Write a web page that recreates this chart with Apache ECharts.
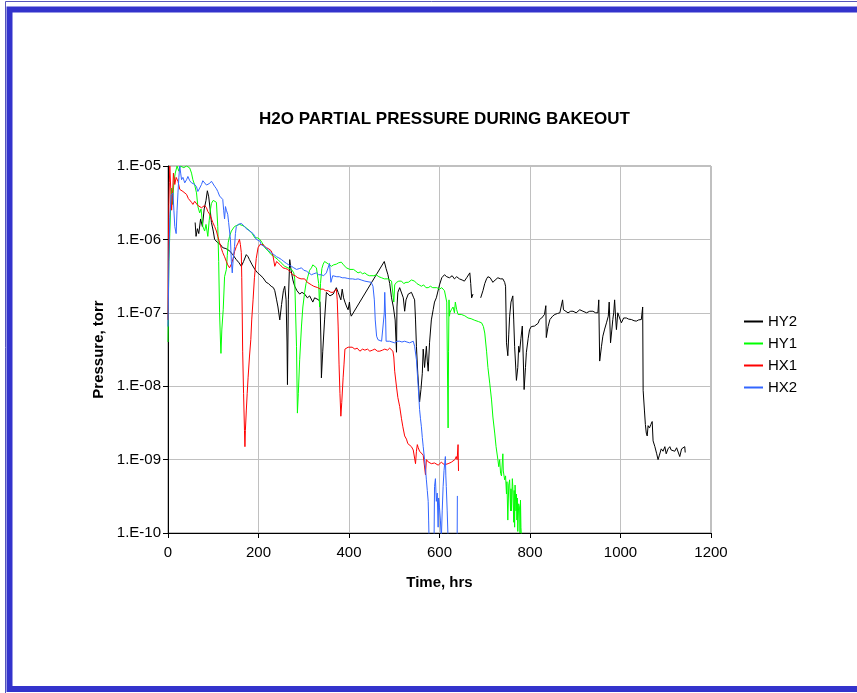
<!DOCTYPE html>
<html>
<head>
<meta charset="utf-8">
<script src="https://cdn.jsdelivr.net/npm/echarts@6/dist/echarts.min.js"></script>
<style>
  html, body { margin: 0; padding: 0; background: #ffffff; }
  #chart { width: 857px; height: 693px; }
</style>
</head>
<body>
<div id="chart"></div>
<script>
// Water partial pressure (torr) vs. bakeout time (hrs) for four gauges.
const seriesNames = ['HY2', 'HY1', 'HX1', 'HX2'];
const xTicks = [0, 200, 400, 600, 800, 1000, 1200];
const yTicks = [1e-10, 1e-9, 1e-8, 1e-7, 1e-6, 1e-5];

const hy2 = [
  [60,1.7e-6],[62,1.1e-6],[65,1.4e-6],[68,1.2e-6],[72,1.9e-6],[76,1.5e-6],[80,2.6e-6],[84,3.4e-6],[87,4.6e-6],[90,3.8e-6],
  [93,2.6e-6],[96,1.7e-6],[100,1.3e-6],[103,1.0e-6],[110,9e-7],[116,8.5e-7],[121,7.7e-7],[128,7.5e-7],[136,7e-7],[143,6.2e-7],
  [151,5.3e-7],[157,4.8e-7],[162,4.3e-7],[167,5e-7],[173,6.2e-7],[177,5.8e-7],[180,5.3e-7],[186,4.5e-7],[192,3.9e-7],[198,3.5e-7],
  [203,3.3e-7],[210,3e-7],[217,2.6e-7],[222,2.5e-7],[228,2.3e-7],[233,2.2e-7],[236,2.0e-7],[240,1.5e-7],[243,1.2e-7],[247,8e-8],
  [251,1.3e-7],[255,2.0e-7],[258,2.3e-7],[261,1.5e-7],[263,4e-8],[264,1.05e-8],[266,1.5e-7],[269,5.3e-7],[272,3.8e-7],[276,2.8e-7],
  [280,2.3e-7],[285,2.0e-7],[291,1.8e-7],[296,1.9e-7],[302,1.8e-7],[308,1.6e-7],[313,1.7e-7],[320,1.4e-7],[324,1.6e-7],[328,1.7e-7],
  [333,1.5e-7],[336,1.4e-7],[338,4e-8],[339,1.3e-8],[342,3e-8],[346,8e-8],[350,1.9e-7],[358,1.7e-7],[365,1.8e-7],[372,2.2e-7],
  [376,1.9e-7],[379,1.9e-7],[382,1.5e-7],[385,2.1e-7],[388,1.6e-7],[391,1.4e-7],[395,1.2e-7],[398,1.1e-7],[401,1.4e-7],[403,1.0e-7],
  [405,9e-8],[478,5e-7],[482,4e-7],[486,3.3e-7],[490,2.5e-7],[494,1.6e-7],[498,1.2e-7],[502,8e-8],[505,2.9e-8],[506,1.2e-7],
  [508,1.9e-7],[512,2.2e-7],[516,2.2e-7],[520,1.6e-7],[523,1.05e-7],[526,1.5e-7],[531,1.8e-7],[538,1.9e-7],[543,1.6e-7],[545,1.5e-7],
  [547,8e-8],[549,3.5e-8],[552,1.5e-8],[556,6.1e-9],[559,9e-9],[562,1.5e-8],[564,3.2e-8],[567,1.8e-8],[571,3.5e-8],[573,2.2e-8],
  [575,1.6e-8],[578,3.9e-8],[582,8e-8],[586,1.1e-7],[589,1.4e-7],[593,1.6e-7],[597,1.7e-7],[600,2.4e-7],[605,3.0e-7],[611,3.3e-7],
  [616,3.1e-7],[622,3.0e-7],[628,3.2e-7],[633,2.9e-7],[638,3.1e-7],[644,2.9e-7],[650,2.8e-7],[655,2.7e-7],[660,3.0e-7],[663,3.1e-7],
  [667,3.5e-7],[669,2.5e-7],[671,1.6e-7],[674,1.8e-7],[682,'-'],[691,1.6e-7],[696,2.0e-7],[700,2.5e-7],[704,2.9e-7],[707,3.1e-7],
  [712,3.0e-7],[718,2.6e-7],[723,2.8e-7],[729,3.0e-7],[735,2.9e-7],[740,2.9e-7],[744,2.6e-7],[746,2.3e-7],[747,1.0e-7],[748,3.9e-8],
  [751,2.6e-8],[753,5e-8],[755,9e-8],[758,1.4e-7],[762,1.7e-7],[764,8e-8],[766,3.5e-8],[770,1.2e-8],[773,1.8e-8],[775,3.5e-8],
  [777,2.9e-8],[780,4.5e-8],[783,6.6e-8],[785,2.5e-8],[787,9e-9],[790,1.8e-8],[792,2.9e-8],[796,4.5e-8],[799,5.9e-8],[803,6.5e-8],
  [807,6.9e-8],[810,6.6e-8],[814,7e-8],[818,7.2e-8],[821,8.1e-8],[826,8.5e-8],[832,9.5e-8],[835,1.25e-7],[836,4.6e-8],[840,6.5e-8],
  [844,8.1e-8],[850,9e-8],[855,9.5e-8],[861,9.8e-8],[866,1.0e-7],[870,1.05e-7],[872,1.5e-7],[874,1.1e-7],[877,1.1e-7],[884,1.0e-7],
  [890,1.05e-7],[895,1.05e-7],[902,1.0e-7],[910,1.1e-7],[917,1.05e-7],[925,1.0e-7],[932,1.05e-7],[939,1.05e-7],[945,1.0e-7],[950,1.0e-7],
  [952,1.5e-7],[954,2.2e-8],[958,3.5e-8],[961,4.8e-8],[965,6e-8],[969,7.3e-8],[973,9e-8],[975,1.4e-7],[978,3.9e-8],[981,6e-8],
  [983,8.1e-8],[985,1.0e-7],[987,1.5e-7],[989,9e-8],[991,5.9e-8],[994,1.0e-7],[998,8.5e-8],[1002,7.3e-8],[1007,8.5e-8],[1013,8.5e-8],
  [1018,8.2e-8],[1024,8.1e-8],[1030,7.8e-8],[1035,7.7e-8],[1040,8e-8],[1046,8.1e-8],[1049,1.2e-7],[1050,8.8e-9],[1053,4.6e-9],[1055,3e-9],
  [1057,2.3e-9],[1059,2.1e-9],[1061,2.9e-9],[1064,2.7e-9],[1067,3.0e-9],[1070,3.3e-9],[1072,1.8e-9],[1076,1.5e-9],[1080,1.2e-9],[1083,1.0e-9],
  [1086,1.15e-9],[1090,1.4e-9],[1094,1.3e-9],[1098,1.5e-9],[1101,1.2e-9],[1105,1.4e-9],[1109,1.5e-9],[1112,1.35e-9],[1116,1.4e-9],[1120,1.3e-9],
  [1124,1.45e-9],[1127,1.5e-9],[1131,1.1e-9],[1135,1.4e-9],[1138,1.45e-9],[1142,1.5e-9],[1143,1.25e-9]
];

const hy1 = [
  [0,4e-8],[1,1.5e-7],[2,5e-7],[4,1.2e-6],[6,3e-6],[8,5e-6],[10,3e-6],[13,6e-6],[16,8e-6],[20,1.0e-5],
  [24,8.5e-6],[27,1.0e-5],[30,1.0e-5],[35,9.5e-6],[41,1.0e-5],[45,1.0e-5],[48,9.4e-6],[52,8e-6],[55,6.5e-6],[59,5.5e-6],
  [63,4.3e-6],[66,2.8e-6],[70,2.3e-6],[73,2.6e-6],[77,1.5e-6],[81,1.3e-6],[84,1.6e-6],[88,1.1e-6],[91,1.8e-6],[94,2.6e-6],
  [96,3.1e-6],[100,3.4e-6],[103,3.5e-6],[107,3.2e-6],[110,1.5e-6],[112,5e-7],[114,1.0e-7],[116,4e-8],[117,2.8e-8],[119,6e-8],
  [122,1.1e-7],[125,3.1e-7],[129,3.9e-7],[131,6e-7],[133,9e-7],[136,1.1e-6],[140,1.3e-6],[147,1.5e-6],[152,1.55e-6],[158,1.6e-6],
  [164,1.55e-6],[169,1.5e-6],[175,1.4e-6],[181,1.3e-6],[186,1.2e-6],[192,1.05e-6],[198,1.05e-6],[203,1.0e-6],[208,9e-7],[214,7.7e-7],
  [221,7e-7],[228,6.2e-7],[235,5.8e-7],[243,5.3e-7],[250,4.8e-7],[258,4.3e-7],[265,4.1e-7],[273,3.9e-7],[278,3.5e-7],[280,2.9e-7],
  [282,1e-7],[284,3.5e-8],[286,4.3e-9],[288,8e-9],[291,2.3e-8],[295,6.6e-8],[298,1.2e-7],[302,1.9e-7],[305,2.5e-7],[309,3.1e-7],
  [313,3.8e-7],[317,4.1e-7],[320,4.5e-7],[324,4.3e-7],[328,4.1e-7],[331,3.9e-7],[333,2.5e-7],[335,1.2e-7],[337,2.5e-7],[340,4e-7],
  [343,4.6e-7],[346,5e-7],[350,4.9e-7],[355,4.6e-7],[361,4.3e-7],[366,4.5e-7],[372,4.6e-7],[377,4.8e-7],[383,4.9e-7],[388,4.5e-7],
  [394,4.1e-7],[398,4.0e-7],[402,3.9e-7],[405,4.1e-7],[410,3.9e-7],[415,3.7e-7],[420,3.5e-7],[425,3.6e-7],[430,3.4e-7],[435,3.5e-7],
  [440,3.3e-7],[445,3.2e-7],[449,3.1e-7],[455,3.2e-7],[460,3.3e-7],[466,3.1e-7],[472,3.0e-7],[478,2.9e-7],[482,3.0e-7],[486,2.9e-7],
  [490,2.8e-7],[494,2.7e-7],[497,2.7e-7],[499,1.4e-7],[501,2.4e-7],[505,2.6e-7],[510,2.7e-7],[516,2.7e-7],[521,2.5e-7],[526,2.6e-7],
  [531,2.6e-7],[538,2.8e-7],[545,2.7e-7],[550,2.5e-7],[555,2.4e-7],[560,2.3e-7],[565,2.4e-7],[570,2.2e-7],[575,2.2e-7],[580,2.3e-7],
  [585,2.2e-7],[589,2.3e-7],[594,2.2e-7],[600,2.1e-7],[605,2.2e-7],[611,2.0e-7],[614,2.1e-7],[616,1.4e-7],[618,1e-8],[619,2.7e-9],
  [620,3e-8],[621,1.5e-7],[622,9e-8],[623,1.0e-7],[626,1.1e-7],[630,1.2e-7],[633,1.0e-7],[635,1.4e-7],[638,1.1e-7],[641,9.5e-8],
  [645,9.2e-8],[648,9.5e-8],[652,9e-8],[656,9.1e-8],[660,8.7e-8],[663,8.5e-8],[667,8.2e-8],[670,8.3e-8],[674,8e-8],[678,7.9e-8],
  [682,7.7e-8],[686,7.6e-8],[690,7.5e-8],[693,7.3e-8],[697,6.5e-8],[700,5.3e-8],[704,3e-8],[707,1.8e-8],[711,1.1e-8],[715,6.5e-9],
  [718,3.8e-9],[722,2.3e-9],[725,1.5e-9],[729,1.0e-9],[731,8e-10],[733,1.0e-9],[735,6.5e-10],[737,6e-10],[740,1.2e-9],[741,7e-10],
  [744,5.3e-10],[746,6e-10],[748,3.4e-10],[749,5e-10],[751,1.5e-10],[753,4.5e-10],[755,5.3e-10],[757,2e-10],[758,4e-10],[759,2e-10],
  [761,5.5e-10],[762,4.3e-10],[764,1.4e-10],[765,3.8e-10],[766,1.2e-10],[767,4.5e-10],[769,2e-10],[770,3.4e-10],[771,1.5e-10],[772,3e-10],
  [773,1.05e-10],[775,2.5e-10],[777,2.2e-10],[778,1.0e-10],[779,2.8e-10],[780,1.2e-10],[781,0.9e-10]
];

const hx1 = [
  [0,8e-8],[1,1e-6],[2,3e-6],[3,6e-6],[4,1e-5],[6,5e-6],[8,2.5e-6],[10,4e-6],[12,8e-6],[15,5.6e-6],
  [18,7e-6],[22,6.2e-6],[26,4.8e-6],[30,5e-6],[33,4.5e-6],[37,4.3e-6],[41,4.1e-6],[45,3.6e-6],[48,3.5e-6],[52,3.2e-6],
  [55,3.0e-6],[59,3.3e-6],[63,3.1e-6],[66,2.9e-6],[70,3.0e-6],[74,2.7e-6],[77,2.8e-6],[81,2.9e-6],[85,2.7e-6],[88,2.4e-6],
  [92,2.2e-6],[96,1.9e-6],[99,1.7e-6],[103,1.5e-6],[107,1.3e-6],[110,1.1e-6],[114,9e-7],[118,7.5e-7],[121,6.6e-7],[125,5.8e-7],
  [129,5e-7],[132,4.5e-7],[136,4.1e-7],[140,4.6e-7],[144,5.5e-7],[147,6.8e-7],[151,8e-7],[155,9e-7],[158,1.0e-6],[160,8.5e-7],
  [162,6.6e-7],[163,3e-7],[164,1e-7],[165,3e-8],[167,8e-9],[169,2.5e-9],[170,1.5e-9],[171,2.5e-9],[173,4.6e-9],[175,8e-9],
  [177,1.3e-8],[180,2.5e-8],[183,4.3e-8],[185,8e-8],[188,1.5e-7],[191,3e-7],[195,5.5e-7],[199,7.7e-7],[203,8.5e-7],[206,9e-7],
  [210,8.5e-7],[214,8e-7],[217,7.7e-7],[222,7.5e-7],[228,7e-7],[232,6e-7],[236,4.3e-7],[240,5e-7],[243,4.7e-7],[248,4.5e-7],
  [254,4.1e-7],[260,4.0e-7],[265,3.9e-7],[270,3.6e-7],[276,3.3e-7],[281,3.2e-7],[287,3.0e-7],[294,2.9e-7],[302,2.9e-7],[308,2.6e-7],
  [312,2.7e-7],[317,2.4e-7],[322,2.3e-7],[326,2.4e-7],[331,2.2e-7],[337,2.1e-7],[343,2.1e-7],[348,2.0e-7],[354,2.0e-7],[360,1.9e-7],
  [365,1.9e-7],[369,2.0e-7],[372,2.1e-7],[374,1.5e-7],[376,6.6e-8],[378,2e-8],[380,8e-9],[382,3.9e-9],[384,6e-9],[387,1.3e-8],
  [389,2e-8],[391,3.2e-8],[395,3.3e-8],[398,3.4e-8],[402,3.3e-8],[407,3.4e-8],[413,3.2e-8],[418,3.3e-8],[424,3.0e-8],[430,3.2e-8],
  [435,3.1e-8],[441,3.2e-8],[446,3.0e-8],[452,3.1e-8],[457,3.2e-8],[463,3.0e-8],[468,3.0e-8],[474,3.1e-8],[479,3.2e-8],[485,3.1e-8],
  [490,3.3e-8],[494,3.2e-8],[497,3.0e-8],[499,2.5e-8],[501,1.6e-8],[505,9.8e-9],[508,7e-9],[512,5.3e-9],[516,3.6e-9],[519,2.8e-9],
  [523,2.1e-9],[527,1.9e-9],[530,1.65e-9],[534,1.6e-9],[538,1.5e-9],[542,1.35e-9],[545,1.3e-9],[547,8.8e-10],[549,1.3e-9],[551,1.6e-9],
  [553,1.45e-9],[556,1.3e-9],[560,1.25e-9],[564,1.15e-9],[567,1.1e-9],[569,6.2e-10],[571,1.0e-9],[575,9.3e-10],[578,9.5e-10],[582,8.8e-10],
  [586,9.2e-10],[589,9.0e-10],[593,8.6e-10],[597,8.4e-10],[600,8.8e-10],[604,9.2e-10],[608,9e-10],[611,8.5e-10],[615,8.4e-10],[619,8.8e-10],
  [622,8.8e-10],[626,9.2e-10],[630,9e-10],[634,1.0e-9],[637,1.1e-9],[639,1.0e-9],[641,1.6e-9],[642,7e-10]
];

const hx2 = [
  [0,6.5e-8],[2,5.3e-7],[4,2e-6],[7,4e-6],[11,4.3e-6],[13,2.5e-6],[15,1.5e-6],[18,1.2e-6],[20,2.5e-6],[22,4.3e-6],
  [24,7e-6],[26,1.0e-5],[28,8e-6],[30,6.5e-6],[33,7e-6],[37,5.9e-6],[41,6.5e-6],[44,7.2e-6],[48,6.3e-6],[52,5.9e-6],
  [55,6.2e-6],[59,5.6e-6],[63,5.2e-6],[66,4.5e-6],[70,5e-6],[74,5.6e-6],[77,6.3e-6],[81,6.2e-6],[85,5.5e-6],[88,5.3e-6],
  [92,5.8e-6],[96,6.2e-6],[99,5.9e-6],[103,5.3e-6],[107,4.9e-6],[110,4.5e-6],[114,3.9e-6],[118,3.7e-6],[121,3.5e-6],[123,2.5e-6],
  [125,1.9e-6],[127,2.8e-6],[129,2.5e-6],[132,2.2e-6],[134,1.7e-6],[136,1.8e-6],[138,1.0e-6],[140,5e-7],[142,3.5e-7],[144,5.3e-7],
  [147,8e-7],[149,1.2e-6],[151,1.5e-6],[155,1.6e-6],[158,1.7e-6],[162,1.65e-6],[166,1.6e-6],[169,1.5e-6],[173,1.4e-6],[177,1.35e-6],
  [181,1.3e-6],[185,1.25e-6],[188,1.2e-6],[192,1.1e-6],[195,1.0e-6],[199,9.8e-7],[203,9.5e-7],[206,8.5e-7],[211,8.1e-7],[217,7.7e-7],
  [222,7.1e-7],[228,6.6e-7],[234,6.2e-7],[240,5.8e-7],[245,5.6e-7],[251,5.3e-7],[256,5e-7],[262,4.7e-7],[267,4.5e-7],[273,4.3e-7],
  [278,4.1e-7],[284,3.9e-7],[290,4.0e-7],[295,4.1e-7],[300,3.8e-7],[306,3.7e-7],[311,3.5e-7],[317,3.3e-7],[322,3.4e-7],[328,3.5e-7],
  [333,3.3e-7],[339,3.3e-7],[344,3.2e-7],[350,3.5e-7],[354,3.3e-7],[357,4.7e-7],[360,2.6e-7],[364,3.2e-7],[368,3.3e-7],[373,3.1e-7],
  [379,3.1e-7],[385,3.0e-7],[391,3.0e-7],[396,2.95e-7],[402,2.9e-7],[408,2.9e-7],[414,2.85e-7],[420,2.9e-7],[427,2.8e-7],[435,2.7e-7],
  [442,2.65e-7],[449,2.6e-7],[453,2.3e-7],[456,1.5e-7],[458,8e-8],[461,4.8e-8],[464,4.3e-8],[468,4.2e-8],[472,4.1e-8],[476,4.3e-8],
  [478,1.0e-7],[479,1.9e-7],[481,8e-8],[482,4.1e-8],[486,4.2e-8],[490,4.1e-8],[495,4.0e-8],[501,3.9e-8],[506,4.1e-8],[512,4.1e-8],
  [517,4.0e-8],[523,4.1e-8],[528,4.0e-8],[534,3.9e-8],[538,4.1e-8],[542,4.1e-8],[545,3.5e-8],[549,2.3e-8],[551,1.5e-8],[553,9.8e-9],
  [556,4.8e-9],[558,3.6e-9],[560,2.8e-9],[562,2e-9],[564,1.5e-9],[567,1.0e-9],[569,7.5e-10],[571,5.3e-10],[573,3.8e-10],[575,2.7e-10],
  [576,1.5e-10],[577,8e-11],[588,8e-11],[589,4.3e-10],[591,5.5e-10],[593,2.7e-10],[595,3.5e-10],[597,1.2e-10],[598,3e-10],[600,2.2e-10],
  [602,1.5e-10],[604,8e-11],[606,2e-10],[608,4.3e-10],[610,7.1e-10],[613,1.1e-9],[614,6e-10],[615,4.3e-10],[617,2e-10],[619,8e-11],
  [639,8e-11],[639.5,3.2e-10]
];

const seriesData = [hy2, hy1, hx1, hx2];
const seriesColors = ['#000000', '#00ff00', '#ff0000', '#3366ff'];

const FONT = '"Liberation Sans", Arial, sans-serif';

// Scientific labels in the "1.E-05" style.
function expLabel(v) {
  const e = Math.round(Math.log10(v));
  const s = String(Math.abs(e)).padStart(2, '0');
  return '1.E' + (e < 0 ? '-' : '+') + s;
}

const chart = echarts.init(document.getElementById('chart'), null, { renderer: 'canvas' });

chart.setOption({
  animation: false,
  backgroundColor: '#ffffff',
  textStyle: { fontFamily: FONT },
  title: {
    text: 'H2O PARTIAL PRESSURE DURING BAKEOUT',
    left: 439.5,
    top: 106,
    textAlign: 'center',
    textStyle: { fontFamily: FONT, fontSize: 17, fontWeight: 'bold', color: '#000000' }
  },
  legend: {
    orient: 'vertical',
    left: 739,
    top: 309,
    itemWidth: 19,
    itemHeight: 2,
    itemGap: 7,
    icon: 'rect',
    data: seriesNames,
    textStyle: { fontFamily: FONT, fontSize: 15, color: '#000000' }
  },
  grid: {
    left: 168, top: 166, width: 543, height: 367,
    show: true, borderColor: '#808080', borderWidth: 1, backgroundColor: 'transparent'
  },
  xAxis: {
    type: 'value',
    min: xTicks[0],
    max: xTicks[xTicks.length - 1],
    interval: xTicks[1] - xTicks[0],
    name: 'Time, hrs',
    nameLocation: 'middle',
    nameGap: 42,
    nameTextStyle: { fontFamily: FONT, fontSize: 15, fontWeight: 'bold', color: '#000000' },
    axisLine: { show: true, lineStyle: { color: '#000000', width: 1 } },
    axisTick: { show: true, length: 5, lineStyle: { color: '#000000' } },
    axisLabel: { fontFamily: FONT, fontSize: 15, color: '#000000', margin: 12, formatter: v => String(v) },
    splitLine: { show: true, lineStyle: { color: '#c0c0c0', width: 1 } }
  },
  yAxis: {
    type: 'log',
    logBase: 10,
    min: yTicks[0],
    max: yTicks[yTicks.length - 1],
    splitNumber: yTicks.length - 1,
    name: 'Pressure, torr',
    nameLocation: 'middle',
    nameGap: 60,
    nameTextStyle: { fontFamily: FONT, fontSize: 15, fontWeight: 'bold', color: '#000000' },
    axisLine: { show: true, lineStyle: { color: '#000000', width: 1 } },
    axisTick: { show: true, length: 5, lineStyle: { color: '#000000' } },
    axisLabel: { fontFamily: FONT, fontSize: 15, color: '#000000', margin: 7, formatter: expLabel },
    splitLine: { show: true, lineStyle: { color: '#c0c0c0', width: 1 } },
    minorTick: { show: false }
  },
  series: seriesNames.map((name, i) => ({
    name: name,
    type: 'line',
    data: seriesData[i],
    showSymbol: false,
    symbol: 'none',
    clip: true,
    connectNulls: false,
    color: seriesColors[i],
    lineStyle: { color: seriesColors[i], width: 1 },
    emphasis: { disabled: true }
  })),
  graphic: [
    {
      type: 'rect', silent: true,
      shape: { x: 5.5, y: 1.5, width: 900, height: 700 },
      style: { fill: 'none', stroke: '#5555bb', lineWidth: 1 }
    },
    {
      type: 'rect', silent: true,
      shape: { x: 9.5, y: 9.5, width: 900, height: 679.5 },
      style: { fill: 'none', stroke: '#3333cc', lineWidth: 6 }
    }
  ]
});
</script>
</body>
</html>
